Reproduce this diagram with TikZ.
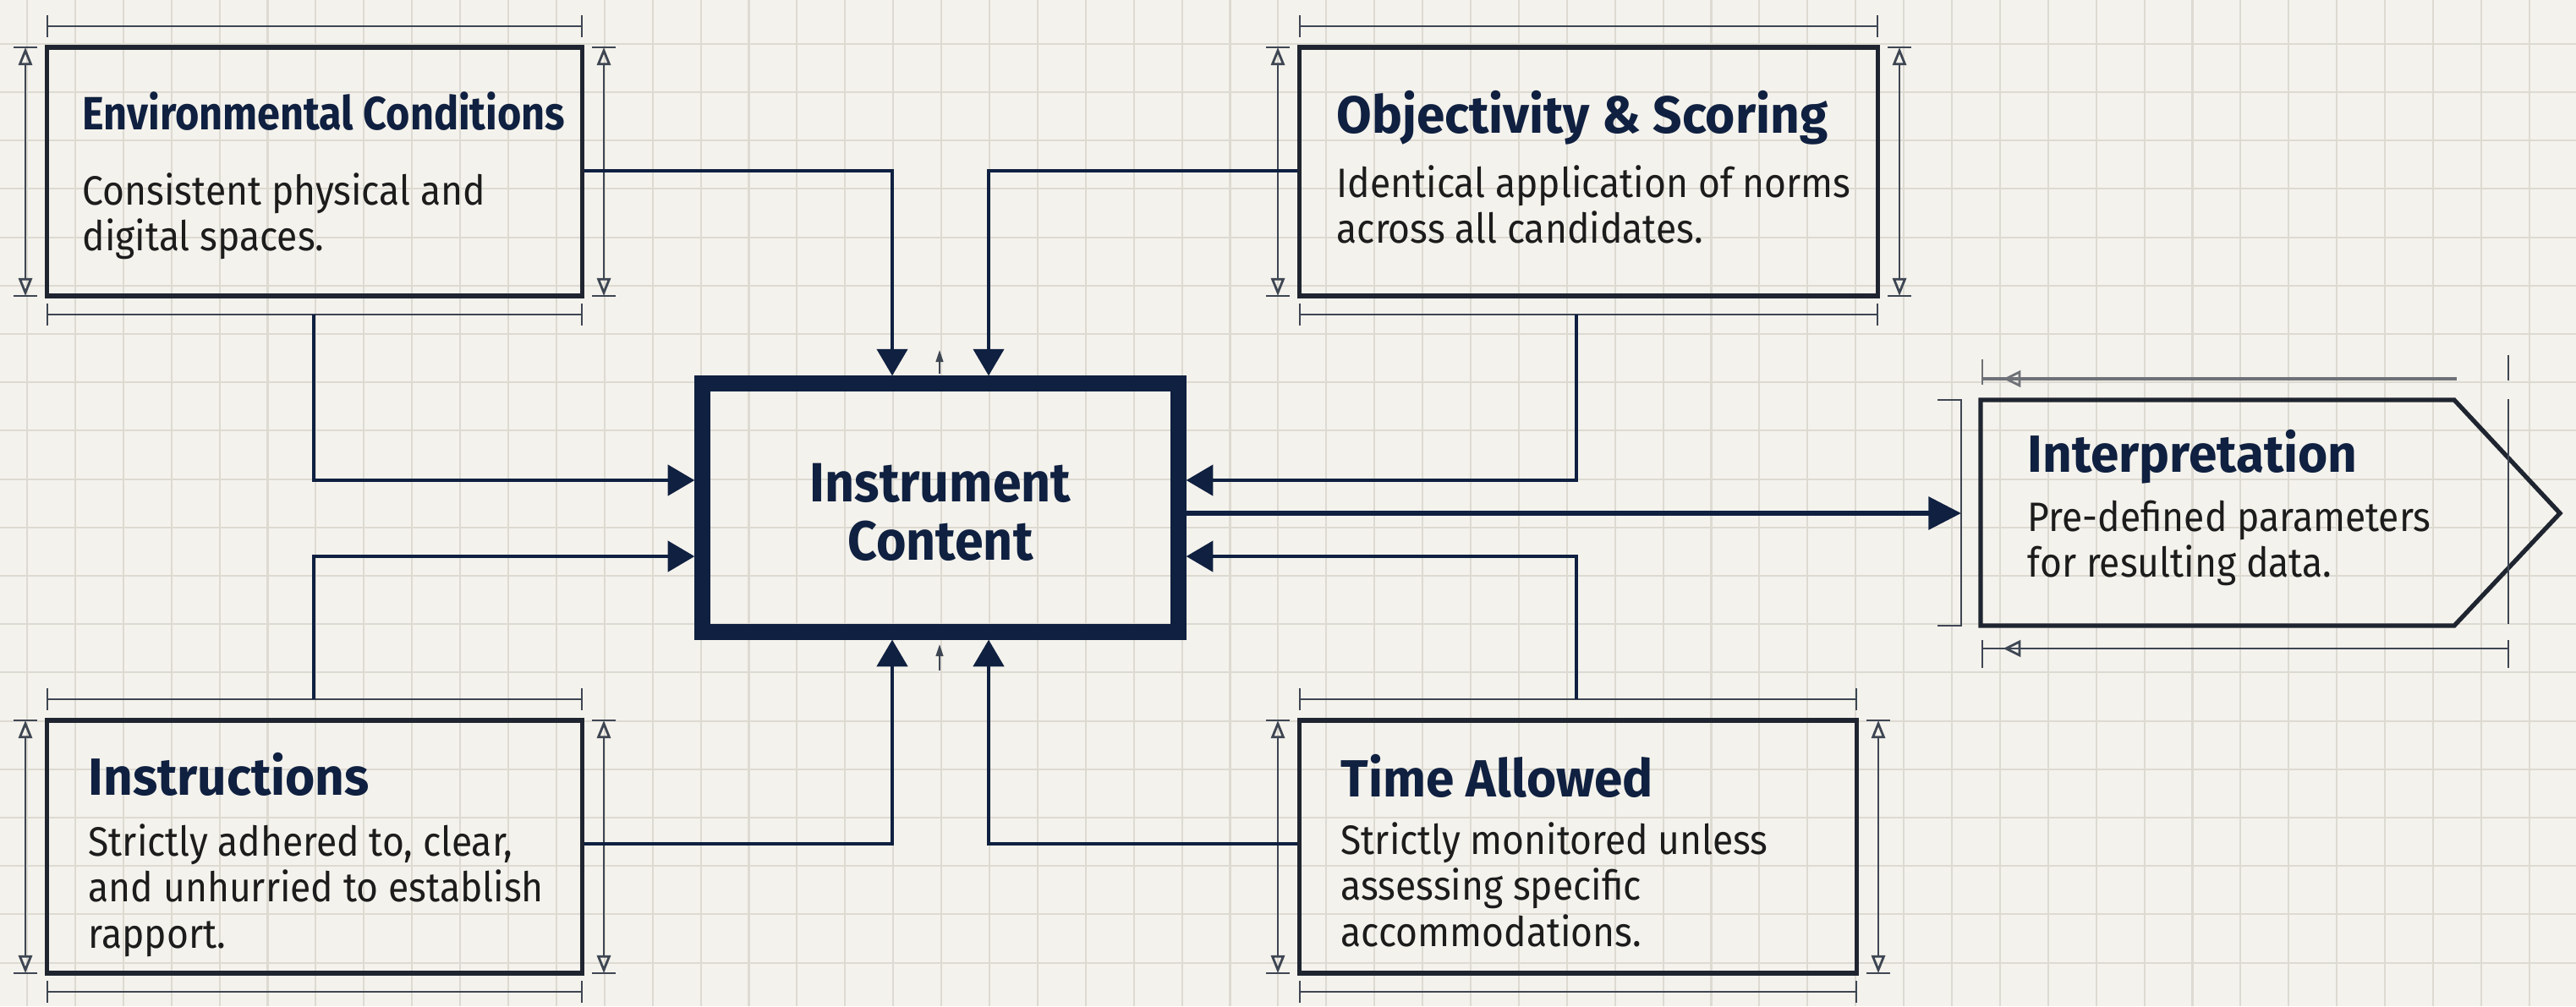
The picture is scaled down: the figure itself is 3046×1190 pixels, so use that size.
\documentclass[tikz,border=0pt]{standalone}
\usepackage{fontspec}
\setmainfont{Fira Sans}
\newfontfamily\bodyf{Fira Sans}[FakeStretch=0.915]
\newfontfamily\headf{Fira Sans}[FakeStretch=0.975]
\newfontfamily\envheadf{Fira Sans}[FakeStretch=0.88]
\newfontfamily\coref{Fira Sans}[FakeStretch=0.93]
\usetikzlibrary{arrows.meta,calc}

\definecolor{paper}{HTML}{F4F2EC}
\definecolor{gridc}{HTML}{DDDAD2}
\definecolor{navy}{HTML}{0F2040}
\definecolor{ink}{HTML}{1F2530}
\definecolor{dimc}{HTML}{3E4653}
\definecolor{softdim}{HTML}{6E7177}
\definecolor{bodyc}{HTML}{1C1C1C}

\tikzset{
  card/.style={draw=ink, line width=1.5pt, inner sep=0pt},
  corebox/.style={draw=navy, line width=5.4pt, inner sep=0pt,
    minimum width=5.62cm, minimum height=2.93cm},
  conn/.style={draw=navy, line width=1.4pt, -{Triangle[length=9pt,width=10.2pt]}},
  bigconn/.style={draw=navy, line width=1.8pt, -{Triangle[length=11pt,width=10.8pt]}},
  dimln/.style={draw=dimc, line width=0.8pt},
  vdim/.style={dimln, {Triangle[open,length=6pt,width=4.6pt]}-{Triangle[open,length=6pt,width=4.6pt]}},
  cmark/.style={draw=dimc, line width=0.5pt, -{Triangle[length=4pt,width=2.5pt]}},
  head/.style={anchor=base west, inner sep=0pt, text=navy,
    font=\headf\bfseries\fontsize{17.6}{20}\selectfont},
  smallhead/.style={head, font=\envheadf\bfseries\fontsize{15.7}{18}\selectfont},
  body/.style={anchor=base west, inner sep=0pt, text=bodyc,
    font=\bodyf\fontsize{13.8}{15.5}\selectfont},
  coretext/.style={anchor=base, inner sep=0pt, text=navy,
    font=\coref\bfseries\fontsize{18.6}{20}\selectfont},
}

% dimension lines around a box: left, right, top, bottom
\newcommand\boxdims[4]{%
  \draw[dimln] (#1,#3-25) -- (#2,#3-25)
    (#1,#3-38) -- (#1,#3-12) (#2,#3-38) -- (#2,#3-12);
  \draw[dimln] (#1,#4+22) -- (#2,#4+22)
    (#1,#4+9) -- (#1,#4+35) (#2,#4+9) -- (#2,#4+35);
  \draw[vdim] (#1-26,#3) -- (#1-26,#4);
  \draw[vdim] (#2+26,#3) -- (#2+26,#4);
  \draw[dimln] (#1-40,#3) -- (#1-12,#3) (#1-40,#4) -- (#1-12,#4)
    (#2+12,#3) -- (#2+40,#3) (#2+12,#4) -- (#2+40,#4);
}

\begin{document}
\begin{tikzpicture}[x=0.01cm, y=-0.01cm]
  \useasboundingbox (0,0) rectangle (3046,1190);

  % paper and grid
  \fill[paper] (0,0) rectangle (3046,1190);
  \begin{scope}
    \clip (0,0) rectangle (3046,1190);
    \foreach \i in {0,...,53}
      \draw[gridc, line width=0.6pt] ({32+56.9*\i},0) -- ({32+56.9*\i},1190);
    \foreach \j in {-6,...,14}
      \draw[gridc, line width=0.6pt] (0,{395+57.2*\j}) -- (3046,{395+57.2*\j});
  \end{scope}

  % boxes
  \node[card, minimum width=6.32cm, minimum height=2.94cm] (env) at (372,203) {};
  \node[card, minimum width=6.83cm, minimum height=2.94cm] (obj) at (1878.5,203) {};
  \node[card, minimum width=6.32cm, minimum height=2.99cm] (ins) at (372,1001.5) {};
  \node[card, minimum width=6.58cm, minimum height=2.99cm] (tim) at (1866,1001.5) {};
  \node[corebox] (core) at (1112,600.5) {};

  \boxdims{56}{688}{56}{350}
  \boxdims{1537}{2220}{56}{350}
  \boxdims{56}{688}{852}{1151}
  \boxdims{1537}{2195}{852}{1151}

  % output block
  \draw[card] (2342,473) -- (2902,473) -- (3027,607) -- (2902,740) -- (2342,740) -- cycle;
  \draw[dimln] (2291,473) -- (2319,473) -- (2319,740) -- (2291,740);
  \draw[dimln, draw=softdim, line width=1pt] (2344,448) -- (2905,448);
  \draw[dimln, draw=softdim] (2344,425) -- (2344,455);
  \draw[dimln, draw=softdim] (2388,440) -- (2372,448) -- (2388,456) -- cycle;
  \draw[dimln] (2344,767) -- (2966,767) (2344,757) -- (2344,790) (2966,757) -- (2966,790);
  \draw[dimln] (2388,759) -- (2372,767) -- (2388,775) -- cycle;
  \draw[dimln] (2966,472) -- (2966,738) (2966,420) -- (2966,450);

  % texts
  \node[smallhead] (envh) at (97,153) {Environmental Conditions};
  \node[body] (envb) at (97,242) {\vtop{\hbox{Consistent physical and}\hbox{digital spaces.}}};
  \node[head] (objh) at (1580,157) {Objectivity \& Scoring};
  \node[body] (objb) at (1580,233) {\vtop{\hbox{Identical application of norms}\hbox{across all candidates.}}};
  \node[head] (insh) at (104,940) {Instructions};
  \node[body] (insb) at (104,1012) {\vtop{\hbox{Strictly adhered to, clear,}\hbox{and unhurried to establish}\hbox{rapport.}}};
  \node[head] (timh) at (1585,942) {Time Allowed};
  \node[body] (timb) at (1585,1010) {\vtop{\hbox{Strictly monitored unless}\hbox{assessing specific}\hbox{accommodations.}}};
  \node[head] (inth) at (2397,558) {Interpretation};
  \node[body] (intb) at (2397,628) {\vtop{\hbox{Pre-defined parameters}\hbox{for resulting data.}}};
  \node[coretext] (corea) at (1112,593) {Instrument};
  \node[coretext] (coreb) at (1112,662) {Content};

  % connector anchors
  \coordinate (xa) at (1055,0);
  \coordinate (xb) at (1169,0);
  \coordinate (ya) at (0,568);
  \coordinate (yb) at (0,658);
  \coordinate (yt) at (0,202);
  \coordinate (ybot) at (0,998);
  \coordinate (envlow) at (371,372);
  \coordinate (inshigh) at (371,827);
  \coordinate (objlow) at (1864,372);
  \coordinate (timhigh) at (1864,827);
  \coordinate (ibr) at (2319,607);

  % connectors
  \draw[conn] (env.east |- yt) -| (xa |- core.north);
  \draw[conn] (obj.west |- yt) -| (xb |- core.north);
  \draw[conn] (envlow) |- (core.west |- ya);
  \draw[conn] (inshigh) |- (core.west |- yb);
  \draw[conn] (objlow) |- (core.east |- ya);
  \draw[conn] (timhigh) |- (core.east |- yb);
  \draw[conn] (ins.east |- ybot) -| (xa |- core.south);
  \draw[conn] (tim.west |- ybot) -| (xb |- core.south);
  \draw[bigconn] (core.east |- ibr) -- (ibr);

  % centre marks
  \coordinate (m1a) at (1111,442);
  \coordinate (m1b) at (1111,414);
  \coordinate (m2a) at (1111,793);
  \coordinate (m2b) at (1111,762);
  \draw[cmark] (m1a) -- (m1b);
  \draw[cmark] (m2a) -- (m2b);
\end{tikzpicture}
\end{document}
